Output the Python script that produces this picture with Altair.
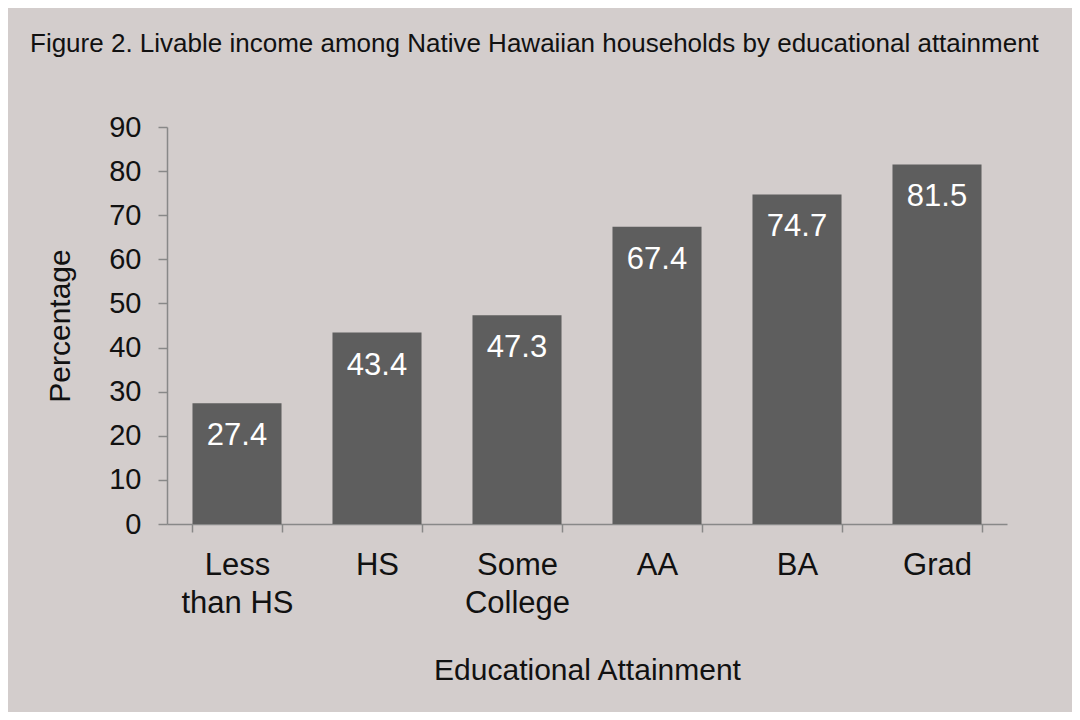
import altair as alt
import pandas as pd

categories = ["Less than HS", "HS", "Some College", "AA", "BA", "Grad"]
values = [27.4, 43.4, 47.3, 67.4, 74.7, 81.5]

df = pd.DataFrame({"cat": categories, "val": values})

FONT = "Liberation Sans"
BG = "#d3cdcc"

x = alt.X("cat:N", sort=categories, title="Educational Attainment",
          scale=alt.Scale(paddingInner=0.364, paddingOuter=0.182),
          axis=alt.Axis(labelAngle=0, labelFontSize=31, labelFont=FONT, labelColor="#111",
                        labelExpr="datum.label == 'Less than HS' ? ['Less', 'than HS'] : datum.label == 'Some College' ? ['Some', 'College'] : datum.label",
                        labelLineHeight=38, labelPadding=18,
                        titleFontSize=30, titleFont=FONT, titleFontWeight="normal", titleColor="#111",
                        titlePadding=37, tickBand="extent", tickSize=8, tickColor="#888",
                        domainColor="#888", domainWidth=1.5, tickWidth=1.5))
y = alt.Y("val:Q", title="Percentage",
          scale=alt.Scale(domain=[0, 90], nice=False),
          axis=alt.Axis(values=list(range(0, 100, 10)), grid=False, labelFontSize=29, labelFont=FONT,
                        labelColor="#111", labelPadding=17, tickSize=9, tickColor="#888",
                        domainColor="#888", domainWidth=1.5, tickWidth=1.5,
                        titleFontSize=30, titleFont=FONT, titleFontWeight="normal", titleColor="#111",
                        titlePadding=33))

bars = alt.Chart(df).mark_bar(color="#5e5e5e").encode(x=x, y=y)
labels = alt.Chart(df).mark_text(color="white", fontSize=31, font=FONT, baseline="middle", dy=33).encode(
    x=alt.X("cat:N", sort=categories), y="val:Q", text=alt.Text("val:Q", format=".1f"))

chart = (bars + labels).properties(
    width=840, height=397,
    title=alt.TitleParams("Figure 2. Livable income among Native Hawaiian households by educational attainment",
                          anchor="start", frame="group", fontSize=26, font=FONT, fontWeight="normal",
                          color="#111", dx=-137, offset=56),
    background=BG,
    autosize=alt.AutoSizeParams(type="none"),
    padding={"left": 159, "top": 119, "right": 65, "bottom": 188},
).configure_view(stroke=None)

chart.save("out.html", embed_options={"renderer": "svg", "actions": False})
